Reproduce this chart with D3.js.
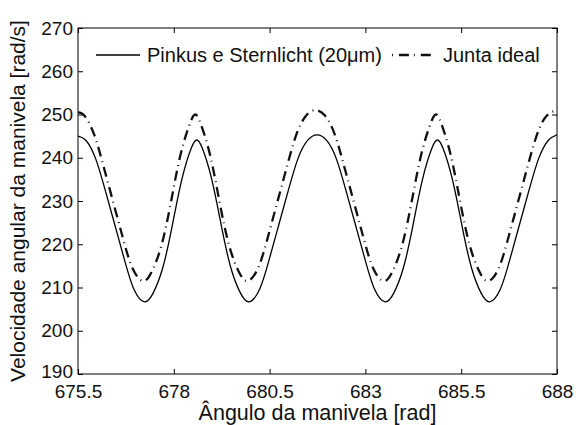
<!DOCTYPE html>
<html><head><meta charset="utf-8">
<script src="https://cdn.jsdelivr.net/npm/d3@7"></script>
<style>
body{margin:0;background:#fff}
svg{display:block}
text{font-family:"Liberation Sans",Arial,Helvetica,sans-serif;fill:#111}
</style>
</head><body>
<svg id="chart" width="576" height="425"></svg>
<script>
const xTicks = [675.5, 678, 680.5, 683, 685.5, 688];
const xTickLabels = ["675.5", "678", "680.5", "683", "685.5", "688"];
const yTicks = [190, 200, 210, 220, 230, 240, 250, 260, 270];
const seriesNames = ["Pinkus e Sternlicht (20\u03bcm)", "Junta ideal"];
const xLabel = "\u00c2ngulo da manivela [rad]";
const yLabel = "Velocidade angular da manivela [rad/s]";

const pinkusAngle = [675.5, 675.71, 675.96, 676.21, 676.46, 676.71, 676.96, 677.235, 677.46, 677.71, 677.96, 678.21, 678.46, 678.60,
  678.74, 678.99, 679.24, 679.49, 679.74, 679.965, 680.24, 680.49, 680.74, 680.99, 681.24, 681.49, 681.74,
  681.99, 682.24, 682.49, 682.74, 682.99, 683.24, 683.515, 683.74, 683.99, 684.24, 684.49, 684.74, 684.88,
  685.02, 685.27, 685.52, 685.77, 686.02, 686.245, 686.52, 686.77, 687.02, 687.27, 687.52, 687.77, 688.0];
const pinkusVelocity = [245.0, 244.0, 239.8, 232.5, 224.5, 216.5, 209.6, 206.7, 208.7, 214.5, 224.3, 235.0, 242.3, 244.1,
  242.3, 235.0, 224.3, 214.5, 208.7, 206.7, 209.6, 216.5, 224.5, 232.5, 239.8, 244.0, 245.3,
  244.0, 239.8, 232.5, 224.5, 216.5, 209.6, 206.7, 208.7, 214.5, 224.3, 235.0, 242.3, 244.1,
  242.3, 235.0, 224.3, 214.5, 208.7, 206.7, 209.6, 216.5, 224.5, 232.5, 239.8, 244.0, 245.3];

const idealAngle = [675.5, 675.67, 675.92, 676.17, 676.42, 676.67, 676.92, 677.195, 677.42, 677.67, 677.92, 678.17, 678.42, 678.56,
  678.70, 678.95, 679.20, 679.45, 679.70, 679.925, 680.20, 680.45, 680.70, 680.95, 681.20, 681.45, 681.70,
  681.95, 682.20, 682.45, 682.70, 682.95, 683.20, 683.475, 683.70, 683.95, 684.20, 684.45, 684.70, 684.84,
  684.98, 685.23, 685.48, 685.73, 685.98, 686.205, 686.48, 686.73, 686.98, 687.23, 687.48, 687.73, 688.0];
const idealVelocity = [250.5, 249.7, 245.4, 237.9, 229.7, 221.5, 214.5, 211.5, 213.6, 219.5, 229.5, 240.5, 247.9, 250.0,
  247.9, 240.5, 229.5, 219.5, 213.6, 211.5, 214.5, 221.5, 229.7, 237.9, 245.4, 249.7, 251.0,
  249.7, 245.4, 237.9, 229.7, 221.5, 214.5, 211.5, 213.6, 219.5, 229.5, 240.5, 247.9, 250.0,
  247.9, 240.5, 229.5, 219.5, 213.6, 211.5, 214.5, 221.5, 229.7, 237.9, 245.4, 249.7, 251.0];

const m = {left: 78, right: 557, top: 28, bottom: 374};
const svg = d3.select("#chart");

const x = d3.scaleLinear().domain([675.5, 688]).range([m.left, m.right]);
const y = d3.scaleLinear().domain([190, 270]).range([m.bottom, m.top]);

const tickFs = 19;

const gB = svg.append("g").attr("transform", `translate(0,${m.bottom})`)
  .call(d3.axisBottom(x).tickValues(xTicks).tickFormat((d, i) => xTickLabels[i])
    .tickSizeInner(-5).tickSizeOuter(0).tickPadding(10.5));
const gT = svg.append("g").attr("transform", `translate(0,${m.top})`)
  .call(d3.axisTop(x).tickValues(xTicks).tickFormat("").tickSizeInner(-5).tickSizeOuter(0));
const gL = svg.append("g").attr("transform", `translate(${m.left},0)`)
  .call(d3.axisLeft(y).tickValues(yTicks).tickFormat(d3.format("d"))
    .tickSizeInner(-5).tickSizeOuter(0).tickPadding(5));
const gR = svg.append("g").attr("transform", `translate(${m.right},0)`)
  .call(d3.axisRight(y).tickValues(yTicks).tickFormat("").tickSizeInner(-5).tickSizeOuter(0));

[gB, gT, gL, gR].forEach(g => {
  g.select(".domain").remove();
  g.selectAll(".tick line").attr("stroke", "#000").attr("stroke-width", 1);
  g.selectAll("text").attr("font-size", tickFs).attr("fill", "#111")
    .attr("font-family", '"Liberation Sans",Arial,Helvetica,sans-serif');
});
// lift the lowest y label a touch so it does not collide with the first x label
gL.selectAll(".tick text").filter(d => d === 190).attr("dy", "0.2em");

svg.append("rect")
  .attr("x", m.left).attr("y", m.top)
  .attr("width", m.right - m.left).attr("height", m.bottom - m.top)
  .attr("fill", "none").attr("stroke", "#000").attr("stroke-width", 1);

svg.append("clipPath").attr("id", "clip").append("rect")
  .attr("x", m.left).attr("y", m.top).attr("width", m.right - m.left).attr("height", m.bottom - m.top);

const line = d3.line().x(d => x(d[0])).y(d => y(d[1])).curve(d3.curveNatural);

const pinkus = pinkusAngle.map((a, i) => [a, pinkusVelocity[i]]);
const ideal = idealAngle.map((a, i) => [a, idealVelocity[i]]);

svg.append("path").datum(pinkus).attr("clip-path", "url(#clip)")
  .attr("d", line).attr("fill", "none").attr("stroke", "#000").attr("stroke-width", 1.3);
svg.append("path").datum(ideal).attr("clip-path", "url(#clip)")
  .attr("d", line).attr("fill", "none").attr("stroke", "#111").attr("stroke-width", 2.3)
  .attr("stroke-dasharray", "10,5,0.9,5");

const legY = 55;
const leg = svg.append("g");
leg.append("line").attr("x1", 96).attr("x2", 140).attr("y1", legY).attr("y2", legY)
  .attr("stroke", "#000").attr("stroke-width", 1.3);
leg.append("text").attr("x", 147).attr("y", legY).attr("dy", "0.35em")
  .attr("font-size", 20).text(seriesNames[0]);
leg.append("line").attr("x1", 392).attr("x2", 432).attr("y1", legY).attr("y2", legY)
  .attr("stroke", "#111").attr("stroke-width", 2.3).attr("stroke-dasharray", "0.9,6,10,5");
leg.append("text").attr("x", 443).attr("y", legY).attr("dy", "0.35em")
  .attr("font-size", 20).text(seriesNames[1]);

svg.append("text").attr("x", (m.left + m.right) / 2).attr("y", 420)
  .attr("text-anchor", "middle").attr("font-size", 21.5).text(xLabel);
svg.append("text").attr("transform", `translate(25,${(m.top + m.bottom) / 2}) rotate(-90)`)
  .attr("text-anchor", "middle").attr("font-size", 21).text(yLabel);
</script>
</body></html>
